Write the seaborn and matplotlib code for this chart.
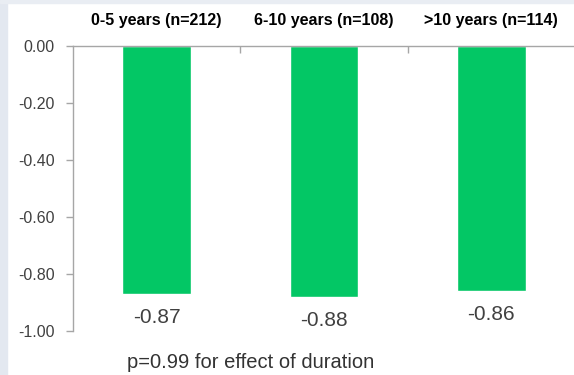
"""
Change in score by disease duration, bar chart with value labels
"""
import numpy as np
import matplotlib
matplotlib.use('Agg')
import matplotlib.pyplot as plt
from matplotlib.patches import Rectangle
import seaborn as sns

# Data
groups = ['0-5 years (n=212)', '6-10 years (n=108)', '>10 years (n=114)']
changes = [-0.87, -0.88, -0.86]
y_ticks = [0.0, -0.2, -0.4, -0.6, -0.8, -1.0]
footnote = 'p=0.99 for effect of duration'

green = '#03C765'
grey_axis = '#a6a6a6'
text_grey = '#404040'

sns.set_style('white')
plt.rcParams['font.family'] = ['Liberation Sans', 'DejaVu Sans']

fig = plt.figure(figsize=(5.74, 3.75), dpi=100)
# light frame strips at left and top edges of the screenshot
fig.patches.append(Rectangle((0, 0), 7 / 574, 1, transform=fig.transFigure,
                             color='#e3e8f0', zorder=0))
fig.patches.append(Rectangle((0, 1 - 3 / 375), 1, 3 / 375, transform=fig.transFigure,
                             color='#e9edf3', zorder=0))

ax = fig.add_axes([73 / 574, 1 - 331 / 375, 502 / 574, 285 / 375])
ax.set_facecolor('none')

sns.barplot(x=groups, y=changes, color=green, width=0.41, saturation=1, ax=ax)

ax.set_xlim(-0.5, 2.5)
ax.set_ylim(-1.0, 0.0)

# category labels sit above the zero line
ax.xaxis.tick_top()
ax.set_xticks(range(len(groups)), groups, fontsize=11.5, fontweight='bold', color='black')
ax.tick_params(axis='x', which='major', length=0, pad=13)
ax.set_xticks([0.5, 1.5], minor=True)
ax.tick_params(axis='x', which='minor', top=True, direction='in', length=5,
               width=1, color=grey_axis)

ax.set_yticks(y_ticks, [f"{abs(t):.2f}" if t == 0 else f"{t:.2f}" for t in y_ticks],
              fontsize=11.5, color=text_grey)
ax.tick_params(axis='y', length=5, width=1, color=grey_axis, pad=8, left=True)

for side in ['right', 'bottom']:
    ax.spines[side].set_visible(False)
for side in ['left', 'top']:
    ax.spines[side].set_color(grey_axis)
    ax.spines[side].set_linewidth(1)
ax.set_xlabel('')
ax.set_ylabel('')

ax.bar_label(ax.containers[0], labels=[f"{v:.2f}" for v in changes],
             padding=10, fontsize=15, color=text_grey)

fig.text(127 / 574, 1 - 363 / 375, footnote, ha='left', va='center',
         fontsize=14.5, color='#333333')

fig.savefig('out.png', dpi=100)
